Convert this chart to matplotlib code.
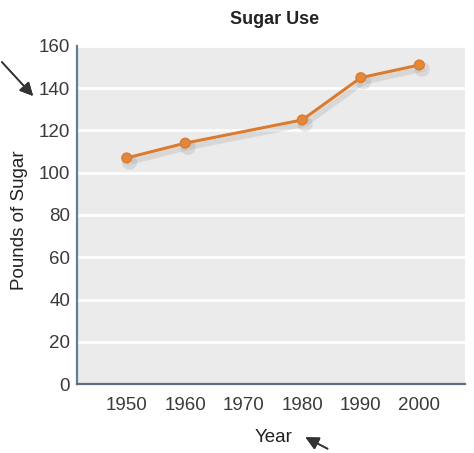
import matplotlib.pyplot as plt
import matplotlib.patheffects as pe

plt.rcParams['font.family'] = ['Liberation Sans', 'DejaVu Sans']

years = [1950, 1960, 1980, 1990, 2000]
pounds = [107, 114, 125, 145, 151]
xticks = [1950, 1960, 1970, 1980, 1990, 2000]
yticks = [0, 20, 40, 60, 80, 100, 120, 140, 160]

fig = plt.figure(figsize=(4.74, 4.53), dpi=100)
ax = fig.add_axes([0.1624, 0.1523, 0.8186, 0.7462])
ax.set_facecolor('#ebebeb')

ax.plot(years, pounds, color='#dc7a2e', lw=2.2, marker='o', ms=7,
        mec='#dc7a2e', mfc='#e3873b', zorder=3,
        path_effects=[pe.SimpleLineShadow(offset=(2, -3), shadow_color='#888888', alpha=0.2, linewidth=4),
                      pe.Normal()])

ax.set_xlim(1941.5, 2007.8)
ax.set_ylim(0, 160)
ax.set_xticks(xticks)
ax.set_yticks(yticks)
ax.yaxis.grid(True, color='white', lw=2)
ax.set_axisbelow(True)
ax.tick_params(length=0, labelsize=13.5, labelcolor='#3a3a3a')
ax.tick_params(axis='y', pad=5)
ax.tick_params(axis='x', pad=9)

for s in ['top', 'right']:
    ax.spines[s].set_visible(False)
ax.spines['left'].set_color('#5d7f98')
ax.spines['bottom'].set_color('#5d6f80')
ax.spines['left'].set_linewidth(1.6)
ax.spines['bottom'].set_linewidth(1.6)

fig.text(275/474, 1-20/453, 'Sugar Use', fontsize=13, fontweight='bold',
         color='#222222', ha='center', va='center')
fig.text(20/474, 1-220/453, 'Pounds of Sugar', fontsize=13.5, color='#222222',
         rotation=90, ha='center', va='center')
fig.text(274/474, 1-437/453, 'Year', fontsize=13.5, color='#222222',
         ha='center', va='center')

# pointer arrows from the textbook page
fig.add_artist(plt.annotate('', xy=(35/474, 1-98/453), xycoords='figure fraction',
                            xytext=(0, 1-60/453), textcoords='figure fraction',
                            arrowprops=dict(arrowstyle='-|>', color='#333333', lw=1.2, mutation_scale=20)))
fig.add_artist(plt.annotate('', xy=(303/474, 1-436/453), xycoords='figure fraction',
                            xytext=(330/474, 1-450/453), textcoords='figure fraction',
                            arrowprops=dict(arrowstyle='-|>', color='#333333', lw=1.2, mutation_scale=20)))

plt.savefig('out.png')
